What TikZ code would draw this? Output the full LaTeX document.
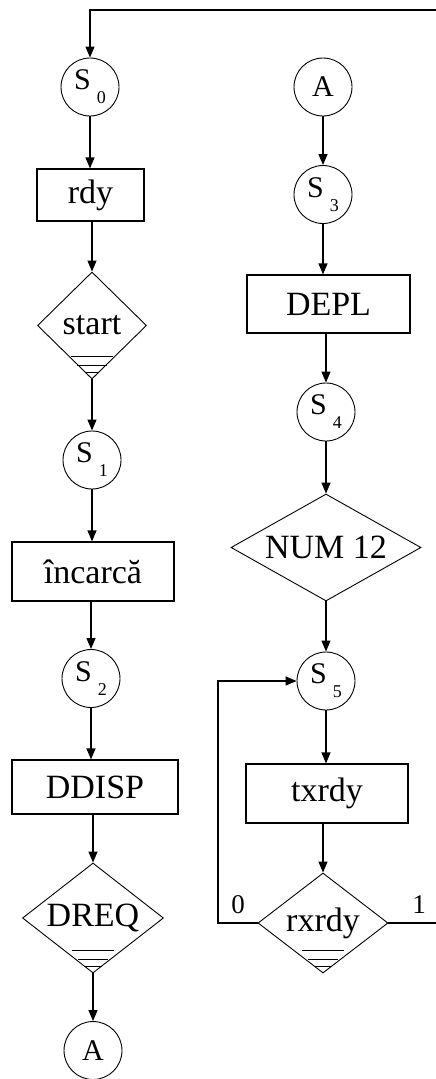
\documentclass[tikz,border=0pt]{standalone}
\usepackage{fontspec}
\setmainfont{Liberation Serif}
\usetikzlibrary{shapes.geometric,arrows.meta,calc}
\newcommand\stlabel[1]{S\hspace{6pt}\raisebox{-14pt}{\fontsize{18}{18}\selectfont #1}}
\begin{document}
\begin{tikzpicture}[x=1pt,y=-1pt,
  conn/.style={line width=1.2pt},
  arr/.style={conn,-{Triangle[width=9pt,length=11pt]}},
  state/.style={circle,draw,line width=0.9pt,minimum size=58pt,inner sep=0pt,font=\fontsize{30}{30}\selectfont},
  box/.style={rectangle,draw,line width=1.2pt,inner sep=0pt,font=\fontsize{34}{36}\selectfont},
  cond/.style={diamond,draw,line width=0.9pt,inner sep=0pt,font=\fontsize{34}{36}\selectfont},
  bars/.style={line width=1pt},
  lbl/.style={font=\fontsize{27}{27}\selectfont,inner sep=0pt}]
\path[fill=white,use as bounding box] (0,0) rectangle (436,1079);
% left column
\node[state] (S0) at (90,87) {\stlabel{0}};
\node[box,minimum width=107pt,minimum height=52pt] (rdy) at (90.5,195) {rdy};
\node[cond,minimum width=109pt,minimum height=107pt] (start) at (92,325.5) {start};
\node[state] (S1) at (92,460) {\stlabel{1}};
\node[box,minimum width=162pt,minimum height=59pt] (inc) at (93,571.5) {încarcă};
\node[state] (S2) at (91,678.5) {\stlabel{2}};
\node[box,minimum width=166pt,minimum height=54pt] (ddisp) at (95,787) {DDISP};
\node[cond,minimum width=141pt,minimum height=110pt,shape aspect=1.28] (dreq) at (93,918) {DREQ};
\node[state] (A2) at (93,1050.5) {A};
% right column
\node[state] (A1) at (323,87) {A};
\node[state] (S3) at (323,194.5) {\stlabel{3}};
\node[box,minimum width=163pt,minimum height=58pt] (depl) at (328.5,304) {DEPL};
\node[state] (S4) at (326,412) {\stlabel{4}};
\node[cond,minimum width=190pt,minimum height=107pt,shape aspect=1.78] (num) at (326,547.5) {NUM 12};
\node[state] (S5) at (326,681) {\stlabel{5}};
\node[box,minimum width=162pt,minimum height=59pt] (tx) at (327,793.5) {txrdy};
\node[cond,minimum width=130pt,minimum height=100pt,shape aspect=1.3] (rx) at (323,923) {rxrdy};
% labels
\node[lbl] (l0) at (238,905) {0};
\node[lbl] (l1) at (419,905) {1};
% bars in decision bottoms
\foreach \d/\w in {start/7,dreq/9,rx/9} {
  \draw[bars] ($(\d.south)+(-21,-23)$) -- ++(42,0);
  \draw[bars] ($(\d.south)+(-15,-14)$) -- ++(30,0);
  \draw[bars] ($(\d.south)+(-\w,-7)$) -- ++(2*\w,0);
}
% connectors left
\draw[arr] (S0.south) -- (S0.south |- rdy.north);
\draw[arr] (rdy.south -| start.north) -- (start.north);
\draw[arr] (start.south) -- (S1.north);
\draw[arr] (S1.south) -- (S1.south |- inc.north);
\draw[arr] (inc.south -| S2.north) -- (S2.north);
\draw[arr] (S2.south) -- (S2.south |- ddisp.north);
\draw[arr] (ddisp.south -| dreq.north) -- (dreq.north);
\draw[arr] (dreq.south) -- (A2.north);
% connectors right
\draw[arr] (A1.south) -- (S3.north);
\draw[arr] (S3.south) -- (S3.south |- depl.north);
\draw[arr] (depl.south -| S4.north) -- (S4.north);
\draw[arr] (S4.south) -- (num.north);
\draw[arr] (num.south) -- (S5.north);
\draw[arr] (S5.south) -- (S5.south |- tx.north);
\draw[arr] (tx.south -| rx.north) -- (rx.north);
% loops
\coordinate (lx) at (218,0);
\draw[arr] (rx.west) -- (rx.west -| lx) |- (S5.west);
\coordinate (rt) at (438,10);
\draw[arr] (rx.east) -- (rx.east -| rt) -- (rt) -| (S0.north);
\end{tikzpicture}
\end{document}
